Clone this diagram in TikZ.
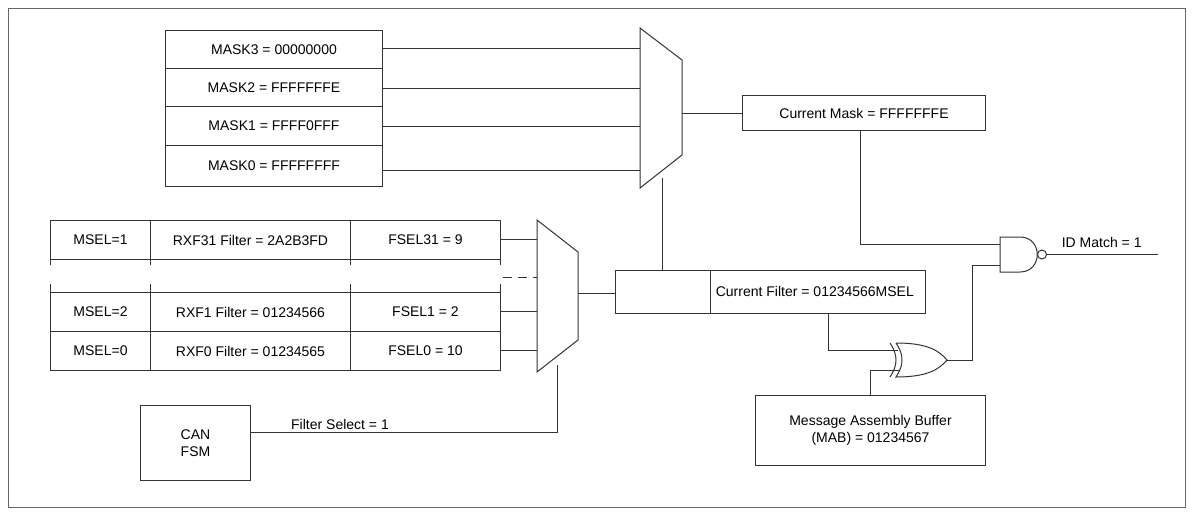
\documentclass[tikz,border=0pt]{standalone}
\usepackage{fontspec}
\setmainfont{Liberation Sans}
\begin{document}
\begin{tikzpicture}[x=1pt,y=-1pt,line width=1pt,draw=black!80,
  box/.style={draw,minimum height=38pt,inner sep=0pt,anchor=north west},
  lbl/.style={font=\fontsize{14}{17}\selectfont},
  w/.style={draw=black!80,line width=1pt}]
\useasboundingbox (0,0) rectangle (1193,514);
\draw[black!60] (8,8) rectangle (1185,507);
% masks
\foreach \n/\t/\y/\h in {m3/MASK3 = 00000000/30/38,m2/MASK2 = FFFFFFFE/68/38,m1/MASK1 = FFFF0FFF/106/39,m0/MASK0 = FFFFFFFF/145/41}
  \node[box,minimum width=217pt,minimum height=\h pt,lbl] (\n) at (165,\y) {\t};
% mux1
\draw[w] (640,28) -- (682,60) -- (682,155) -- (640,188) -- cycle;
\coordinate (mux1o) at (682,113);
\foreach \n/\y in {m3/48,m2/88,m1/126,m0/170} \draw[w] (\n.east|-0,\y) -- (640,\y);
\node[box,minimum width=243pt,minimum height=35pt,lbl] (cm) at (742,95) {Current Mask = FFFFFFFE};
\draw[w] (mux1o) -- (cm.west|-mux1o);
% filter table
\foreach \y/\a/\b/\c in {220/MSEL=1/RXF31 Filter = 2A2B3FD/FSEL31 = 9,292/MSEL=2/RXF1 Filter = 01234566/FSEL1 = 2,331/MSEL=0/RXF0 Filter = 01234565/FSEL0 = 10}{
  \node[box,minimum width=100pt,minimum height=39pt,lbl] at (50,\y) {\a};
  \node[box,minimum width=200pt,minimum height=39pt,lbl] at (150,\y) {\b};
  \node[box,minimum width=150pt,minimum height=39pt,lbl] at (350,\y) {\c};
}
\foreach \x in {50,150,350,500}{\draw[w] (\x,259) -- (\x,265); \draw[w] (\x,284) -- (\x,292);}
% mux2
\draw[w] (537,220) -- (578,252) -- (578,340) -- (537,372) -- cycle;
\foreach \y in {239,311,350} \draw[w] (500,\y) -- (537,\y);
\draw[w,dash pattern=on 9pt off 6pt] (503,277) -- (537,277);
\node[box,minimum width=95pt,minimum height=43pt] (cf0) at (615,270) {};
\node[box,minimum width=215pt,minimum height=43pt] (cf) at (710,270) {};
\node[lbl,anchor=west] at (712,291.5) {Current Filter = 01234566MSEL};
\draw[w] (578,293) -- (615,293);
\draw[w] (662,178) -- (662,270);
% CAN FSM
\node[box,minimum width=110pt,minimum height=75pt,lbl,align=center] (can) at (140,405) {CAN\\FSM};
\draw[w] (can.east|-0,432) -- (557,432) -- (557,365);
\node[lbl,anchor=south] at (340,433) {Filter Select = 1};
% MAB
\node[box,minimum width=230pt,minimum height=70pt,lbl,align=center] (mab) at (755,395) {Message Assembly Buffer\\(MAB) = 01234567};
% XOR
\draw[w] (896,343) .. controls (930,343) and (940,352) .. (947,360) .. controls (940,368) and (930,377) .. (896,377) .. controls (904,365) and (904,355) .. (896,343);
\draw[w] (890,343) .. controls (898,355) and (898,365) .. (890,377);
\coordinate (xo) at (947,360);
% NAND
\draw[w] (1000,237) -- (1020,237) .. controls (1043,237) and (1043,272) .. (1020,272) -- (1000,272) -- cycle;
\draw[w] (1042,254.5) circle (4.5);
\coordinate (no) at (1046.5,254.5);
\draw[w] (no) -- (1158,254.5);
\node[lbl,anchor=south west] at (1058,251) {ID Match = 1};
% wires
\draw[w] (860,130) -- (860,244) -- (1000,244);
\draw[w] (828,313) -- (828,350) -- (898,350);
\draw[w] (mab.north-|870,0) -- (870,370) -- (899,370);
\draw[w] (xo) -- (972,360) -- (972,265) -- (1000,265);
\end{tikzpicture}
\end{document}
